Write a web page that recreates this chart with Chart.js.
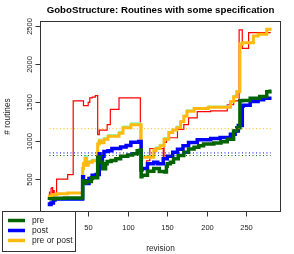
<!DOCTYPE html>
<html><head><meta charset="utf-8">
<script src="https://cdn.jsdelivr.net/npm/chart.js@4"></script>
<style>html,body{margin:0;padding:0;background:#fff}#c{display:block}</style>
</head><body>
<canvas id="c" width="294" height="254"></canvas>
<script>
// ---- data ----
const titleText = "GoboStructure: Routines with some specification";
const xTitle = "revision";
const yTitle = "# routines";
const xTicks = [50, 100, 150, 200, 250];
const yTicks = [500, 1000, 1500, 2000, 2500];
const legendLabels = ["pre", "post", "pre or post"];

const preRev = [1, 8, 20, 43, 44, 48, 54, 62, 65, 68, 72, 74, 79, 85, 91, 100, 106, 112, 116, 117, 118, 125, 133, 140, 147, 149, 150, 154, 158, 164, 171, 177, 184, 190, 196, 209, 218, 226, 234, 238, 242, 245, 255, 267, 276, 280, 282];
const preVal = [230, 245, 250, 255, 480, 450, 470, 517, 786, 720, 637, 700, 731, 745, 765, 800, 815, 830, 872, 880, 530, 551, 603, 640, 600, 594, 670, 700, 722, 765, 808, 850, 893, 915, 936, 957, 970, 987, 1022, 1128, 1170, 1521, 1525, 1555, 1577, 1641, 1645];

const postRev = [1, 3, 6, 8, 43, 44, 48, 51, 55, 60, 64, 65, 68, 70, 75, 80, 91, 98, 104, 114, 117, 118, 125, 133, 138, 145, 150, 157, 163, 170, 177, 188, 205, 217, 230, 236, 240, 245, 246, 255, 265, 272, 282];
const postVal = [200, 170, 190, 230, 240, 530, 480, 444, 510, 550, 560, 830, 740, 800, 860, 870, 900, 920, 940, 980, 990, 620, 640, 700, 720, 700, 765, 800, 850, 890, 936, 978, 1015, 1030, 1043, 1086, 1128, 1200, 1450, 1465, 1513, 1534, 1555];

const eitherRev = [1, 5, 10, 24, 43, 44, 46, 48, 50, 55, 62, 64, 66, 70, 75, 89, 94, 104, 117, 118, 133, 136, 141, 146, 152, 157, 162, 167, 171, 175, 184, 202, 230, 234, 238, 242, 245, 259, 265, 276, 282];
const eitherVal = [240, 280, 300, 310, 320, 640, 700, 770, 680, 720, 740, 960, 1000, 975, 1020, 1060, 1100, 1170, 1210, 765, 785, 870, 900, 935, 1020, 1110, 1140, 1170, 1250, 1320, 1385, 1420, 1436, 1510, 1575, 1640, 2260, 2280, 2365, 2390, 2455];

const bothRev = [1, 4, 8, 43, 44, 46, 49, 51, 55, 62, 64, 66, 70, 75, 89, 94, 104, 117, 118, 133, 136, 141, 146, 152, 157, 162, 167, 171, 175, 184, 202, 230, 234, 238, 242, 245, 259, 265, 276, 282];
const bothVal = [190, 170, 220, 230, 600, 720, 800, 700, 740, 760, 980, 1020, 990, 1040, 1080, 1120, 1190, 1230, 780, 800, 890, 920, 950, 1040, 1120, 1150, 1190, 1260, 1330, 1400, 1430, 1450, 1520, 1590, 1650, 2270, 2280, 2370, 2390, 2450];

const totalRev = [1, 3, 4, 5, 6, 7, 10, 24, 31, 44, 50, 52, 55, 59, 62, 64, 74, 78, 89, 116, 119, 124, 128, 145, 146, 149, 163, 171, 177, 188, 205, 226, 234, 241, 245, 253, 268, 281];
const totalVal = [340, 280, 380, 390, 210, 350, 300, 500, 560, 1520, 1460, 1500, 1560, 1570, 1590, 1080, 1140, 1210, 1410, 1560, 620, 650, 740, 900, 700, 980, 1040, 1150, 1210, 1300, 1380, 1390, 1470, 1520, 2445, 2205, 2410, 2410];

const meanRange = [1, 281];
const meanPre = 808;
const meanPost = 842;
const meanEither = 1158;

// ---- build chart ----
const pts = (xs, ys) => xs.map((x, i) => ({x: x, y: ys[i]}));
const meanPts = v => meanRange.map(x => ({x: x, y: v}));

const GREEN = '#006400', BLUE = '#0000FF', ORANGE = '#FFB90F', AQUA = '#7FFFC4', RED = '#FF0000';

const datasets = [
  {data: meanPts(meanPre), borderColor: GREEN, borderWidth: 1, borderDash: [1, 2.5]},
  {data: meanPts(meanPost), borderColor: BLUE, borderWidth: 1, borderDash: [1, 2.5]},
  {data: meanPts(meanEither), borderColor: ORANGE, borderWidth: 1, borderDash: [1, 2.5]},
  {data: pts(preRev, preVal), borderColor: GREEN, borderWidth: 3.5, stepped: 'after'},
  {data: pts(postRev, postVal), borderColor: BLUE, borderWidth: 3.5, stepped: 'after'},
  {data: pts(eitherRev, eitherVal), borderColor: ORANGE, borderWidth: 3, stepped: 'after'},
  {data: pts(bothRev, bothVal), borderColor: AQUA, borderWidth: 1.6, stepped: 'after'},
  {data: pts(totalRev, totalVal), borderColor: RED, borderWidth: 1.2, stepped: 'after'}
];
datasets.forEach(d => { d.pointRadius = 0; d.fill = false; d.tension = 0; });

const FONT = '"Liberation Sans", Arial, Helvetica, sans-serif';

const decor = {
  id: 'decor',
  afterDraw(chart) {
    const ctx = chart.ctx, a = chart.chartArea;
    const xs = chart.scales.x, ys = chart.scales.y;
    ctx.save();
    // box
    ctx.strokeStyle = '#333';
    ctx.lineWidth = 1;
    ctx.strokeRect(Math.round(a.left) + 0.5, Math.round(a.top) + 0.5, Math.round(a.right - a.left) - 1, Math.round(a.bottom - a.top) - 1);
    // x ticks
    ctx.fillStyle = '#222';
    ctx.font = '7.5px ' + FONT;
    ctx.textAlign = 'center';
    ctx.textBaseline = 'middle';
    const by = Math.round(a.bottom) - 0.5;
    xTicks.forEach(t => {
      const px = Math.round(xs.getPixelForValue(t)) + 0.5;
      ctx.beginPath(); ctx.moveTo(px, by); ctx.lineTo(px, by + 5); ctx.stroke();
      ctx.fillText(String(t), px, by + 16.5);
    });
    // y ticks (rotated labels)
    const lx = Math.round(a.left) + 0.5;
    yTicks.forEach(t => {
      const py = Math.round(ys.getPixelForValue(t)) + 0.5;
      ctx.beginPath(); ctx.moveTo(lx, py); ctx.lineTo(lx - 5, py); ctx.stroke();
      ctx.save();
      ctx.translate(lx - 10.5, py);
      ctx.rotate(-Math.PI / 2);
      ctx.fillText(String(t), 0, 0);
      ctx.restore();
    });
    // axis titles
    ctx.font = '8.3px ' + FONT;
    ctx.fillText(xTitle, (a.left + a.right) / 2, 249);
    ctx.save();
    ctx.translate(8, (a.top + a.bottom) / 2);
    ctx.rotate(-Math.PI / 2);
    ctx.fillText(yTitle, 0, 0);
    ctx.restore();
    // title
    ctx.fillStyle = '#000';
    ctx.font = 'bold 9.7px ' + FONT;
    ctx.fillText(titleText, (a.left + a.right) / 2, 10);
    // legend
    ctx.fillStyle = '#fff';
    ctx.fillRect(2, 211, 74, 41);
    ctx.strokeStyle = '#333';
    ctx.strokeRect(2.5, 211.5, 73, 40);
    const cols = [GREEN, BLUE, ORANGE];
    ctx.font = '8.5px ' + FONT;
    ctx.textAlign = 'left';
    legendLabels.forEach((lab, i) => {
      const yy = 220.5 + i * 10;
      ctx.strokeStyle = cols[i];
      ctx.lineWidth = 3.5;
      ctx.beginPath(); ctx.moveTo(8, yy); ctx.lineTo(25, yy); ctx.stroke();
      ctx.fillStyle = '#222';
      ctx.fillText(lab, 32, yy);
    });
    ctx.restore();
  }
};

new Chart(document.getElementById('c'), {
  type: 'line',
  data: {datasets: datasets},
  options: {
    responsive: false,
    animation: false,
    events: [],
    layout: {padding: {left: 40, right: 13, top: 21, bottom: 42}},
    scales: {
      x: {type: 'linear', min: -11, max: 294, display: false},
      y: {type: 'linear', min: 72, max: 2562, display: false}
    },
    plugins: {legend: {display: false}, title: {display: false}, tooltip: {enabled: false}}
  },
  plugins: [decor]
});
</script>
</body></html>
